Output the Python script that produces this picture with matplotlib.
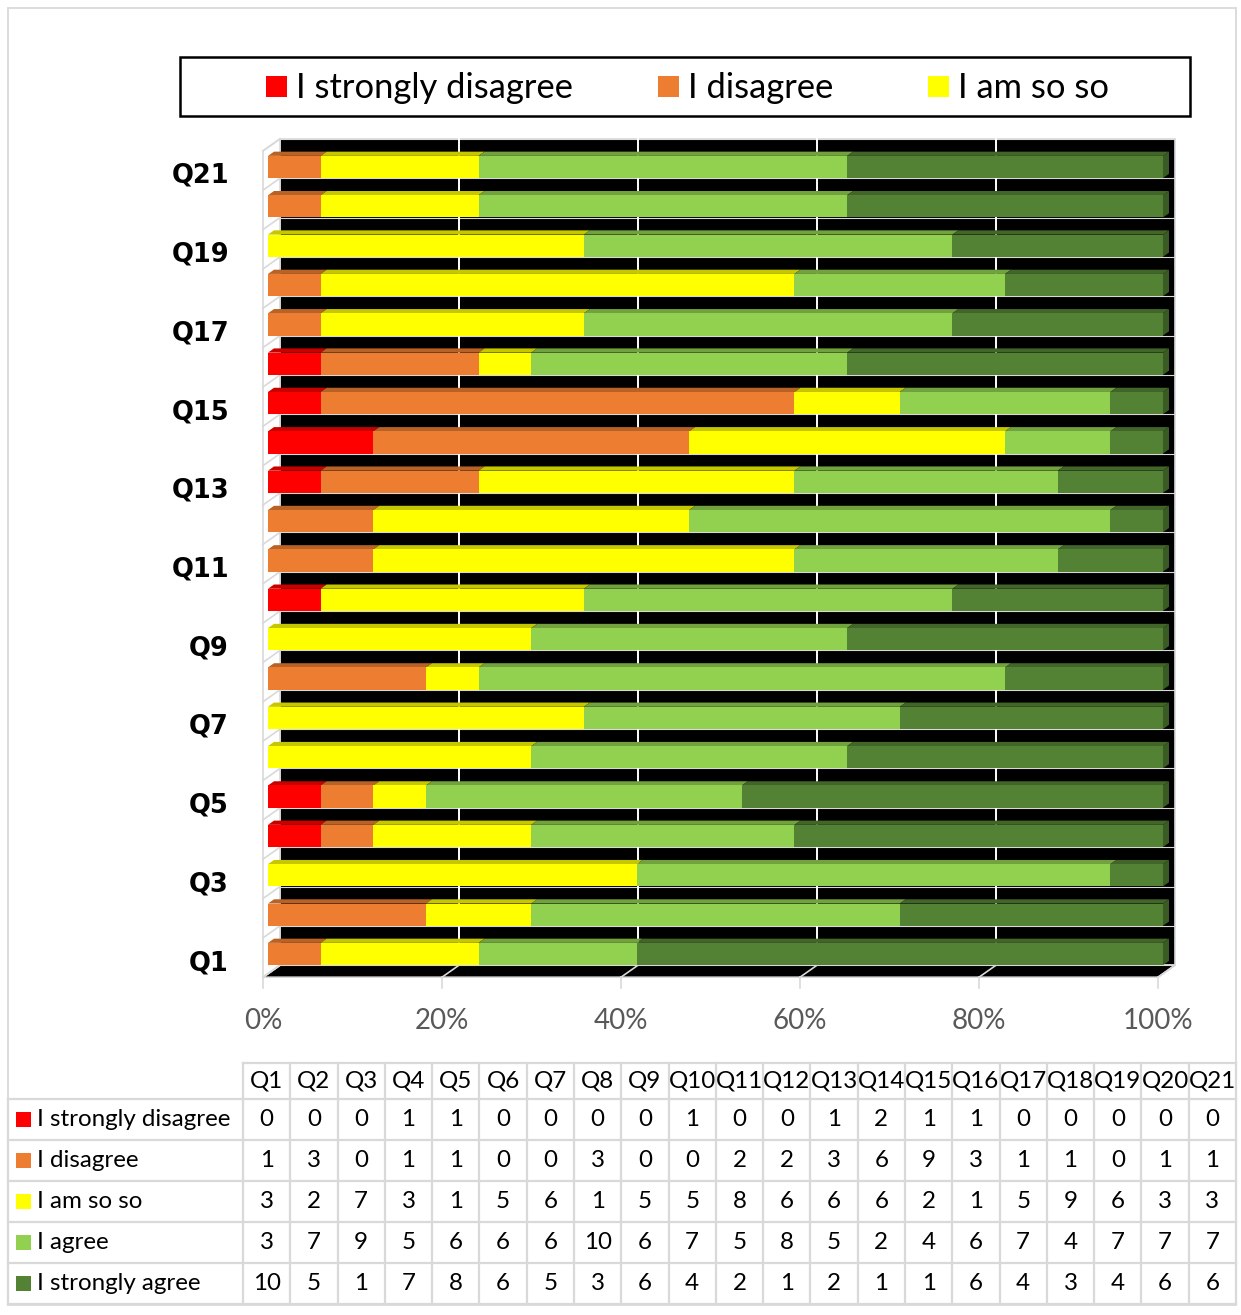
import matplotlib
matplotlib.use("Agg")
import matplotlib.pyplot as plt
from matplotlib.patches import Rectangle, Polygon
import numpy as np

# ---------------- data ----------------
questions = [f"Q{i}" for i in range(1, 22)]
series_names = ["I strongly disagree", "I disagree", "I am so so", "I agree", "I strongly agree"]
strongly_disagree = [0, 0, 0, 1, 1, 0, 0, 0, 0, 1, 0, 0, 1, 2, 1, 1, 0, 0, 0, 0, 0]
disagree          = [1, 3, 0, 1, 1, 0, 0, 3, 0, 0, 2, 2, 3, 6, 9, 3, 1, 1, 0, 1, 1]
so_so             = [3, 2, 7, 3, 1, 5, 6, 1, 5, 5, 8, 6, 6, 6, 2, 1, 5, 9, 6, 3, 3]
agree             = [3, 7, 9, 5, 6, 6, 6, 10, 6, 7, 5, 8, 5, 2, 4, 6, 7, 4, 7, 7, 7]
strongly_agree    = [10, 5, 1, 7, 8, 6, 5, 3, 6, 4, 2, 1, 2, 1, 1, 6, 4, 3, 4, 6, 6]
colors = ["#FF0000", "#ED7D31", "#FFFF00", "#92D050", "#548235"]
xticks = [0, 20, 40, 60, 80, 100]
xtick_labels = ["0%", "20%", "40%", "60%", "80%", "100%"]
legend_visible = 3

# ---------------- helpers ----------------
def shade(c, f):
    c = np.array(matplotlib.colors.to_rgb(c))
    return tuple(c * f)

W, H = 1241, 1315
FONT = "Lato"
GRID = "#D9D9D9"

fig = plt.figure(figsize=(W / 100, H / 100), dpi=100)
fig.patch.set_facecolor("white")

# chart-area border
fig.add_artist(Rectangle((8 / W, 1 - 1305 / H), 1228 / W, 1297 / H, transform=fig.transFigure,
                         fill=False, ec=GRID, lw=1.3))

# ---------------- main 3D-looking bar chart ----------------
PXX, X0PX = 8.95, 268.0     # px per percent, px of 0 %
PXY, Y0PX = 39.35, 954.0    # px per category, px of Q1 centre
ax = fig.add_axes([240 / W, 1 - 1000 / H, 960 / W, 870 / H])
ax.set_xlim((240 - X0PX) / PXX, (1200 - X0PX) / PXX)
ax.set_ylim((Y0PX - 1000) / PXY, (Y0PX - 130) / PXY)
ax.set_axis_off()

DX, DY = 17 / PXX, 12 / PXY        # full depth vector (data units)
t0, t1 = 5 / 17, 11 / 17           # bar front / back depth
def sh(t):
    return (t - t0) * DX, (t - t0) * DY

n = len(questions)
cats = np.arange(n)
lo, hi = -0.5, n - 0.5
h = 0.565

s0x, s0y = sh(0)
s1x, s1y = sh(1)

# back wall
ax.add_patch(Rectangle((s1x, lo + s1y), 100, n, fc="black", ec=GRID, lw=1.2, zorder=1))
for k in range(n + 1):
    ax.plot([s1x, 100 + s1x], [lo + k + s1y] * 2, color=GRID, lw=0.8, zorder=1.5)
for v in xticks[1:-1]:
    ax.plot([v + s1x] * 2, [lo + s1y, hi + s1y], color="white", lw=1.4, zorder=1.6)

# floor
ax.add_patch(Polygon([(s0x, lo + s0y), (100 + s0x, lo + s0y), (100 + s1x, lo + s1y), (s1x, lo + s1y)],
                     closed=True, fc="black", ec=GRID, lw=1.2, zorder=2))
for v in xticks:
    ax.plot([v + s0x, v + s1x], [lo + s0y, lo + s1y], color=GRID, lw=1.2, zorder=2.1)
    ax.plot([v + s0x] * 2, [lo + s0y, lo + s0y - 11 / PXY], color=GRID, lw=1.2, zorder=2.1)
    ax.text(v + s0x, lo + s0y - 44 / PXY, xtick_labels[xticks.index(v)], ha="center", va="center",
            color="#595959", fontsize=20, family=FONT)

# left wall
ax.add_patch(Polygon([(s0x, lo + s0y), (s1x, lo + s1y), (s1x, hi + s1y), (s0x, hi + s0y)],
                     closed=True, fc="white", ec=GRID, lw=1.2, zorder=2))
for k in range(n + 1):
    ax.plot([s0x, s1x], [lo + k + s0y, lo + k + s1y], color=GRID, lw=1.2, zorder=2.1)

# bars
vals = np.array([strongly_disagree, disagree, so_so, agree, strongly_agree], dtype=float)
pct = vals / vals.sum(axis=0) * 100
lefts = np.vstack([np.zeros(n), np.cumsum(pct, axis=0)[:-1]])
tdx, tdy = (t1 - t0) * DX, (t1 - t0) * DY
for i in range(len(series_names)):
    ax.barh(cats, pct[i], left=lefts[i], height=h, color=colors[i], edgecolor="none", zorder=6)
    for c in cats:
        w = pct[i][c]
        if w <= 0:
            continue
        l = lefts[i][c]
        y = c + h / 2
        ax.add_patch(Polygon([(l, y), (l + w, y), (l + w + tdx, y + tdy), (l + tdx, y + tdy)],
                             closed=True, fc=shade(colors[i], 0.78), ec="none", zorder=5 + i * 0.01))
# right end faces
last_color = [colors[max(i for i in range(len(series_names)) if vals[i][c] > 0)] for c in cats]
for c in cats:
    ax.add_patch(Polygon([(100, c - h / 2), (100, c + h / 2), (100 + tdx, c + h / 2 + tdy),
                          (100 + tdx, c - h / 2 + tdy)], closed=True,
                         fc=shade(last_color[c], 0.7), ec="none", zorder=5.5))

# category labels (every other)
for c in range(0, n, 2):
    ax.text((229 - X0PX) / PXX, c - 9 / PXY, questions[c], ha="right", va="center",
            fontsize=18.5, fontweight="bold", family="DejaVu Sans", color="black")

# ---------------- legend (cropped, as in original) ----------------
fig.add_artist(Rectangle((180 / W, 1 - 116 / H), 1010 / W, 59 / H, transform=fig.transFigure,
                         fill=False, ec="black", lw=1.8))
key_x = [266, 658, 928]
for i in range(legend_visible):
    fig.add_artist(Rectangle((key_x[i] / W, 1 - 97 / H), 21 / W, 21 / H, transform=fig.transFigure,
                             fc=colors[i], ec="none"))
    fig.text((key_x[i] + 30) / W, 1 - 88 / H, series_names[i], ha="left", va="center",
             fontsize=24.8, family=FONT, color="black")

# ---------------- data table ----------------
CW = 47.29
L = 235 / CW
HH = 36 / 41
tax = fig.add_axes([8 / W, 1 - 1304 / H, 1228 / W, 241 / H])
tax.set_xlim(-L, n)
tax.set_ylim(5, -HH)
tax.set_axis_off()
lwt = 1.6
tax.plot([0, n], [-HH, -HH], color=GRID, lw=lwt, clip_on=False)
for r in range(6):
    tax.plot([-L, n], [r, r], color=GRID, lw=lwt, clip_on=False)
for j in range(n + 1):
    tax.plot([j, j], [-HH, 5], color=GRID, lw=lwt, clip_on=False)
tax.plot([-L, -L], [0, 5], color=GRID, lw=lwt, clip_on=False)
TFS = 17.4
for j, q in enumerate(questions):
    tax.text(j + 0.5, -HH / 2, q, ha="center", va="center", fontsize=TFS, family=FONT)
for r, name in enumerate(series_names):
    tax.add_patch(Rectangle((-L + 8 / CW, r + 0.5 - 7.5 / 41), 15 / CW, 15 / 41, fc=colors[r], ec="none"))
    tax.text(-L + 29 / CW, r + 0.5, name, ha="left", va="center", fontsize=TFS, family=FONT)
    for j in range(n):
        tax.text(j + 0.5, r + 0.5, f"{int(vals[r][j])}", ha="center", va="center", fontsize=TFS, family=FONT)

fig.savefig("out.png", dpi=100)
